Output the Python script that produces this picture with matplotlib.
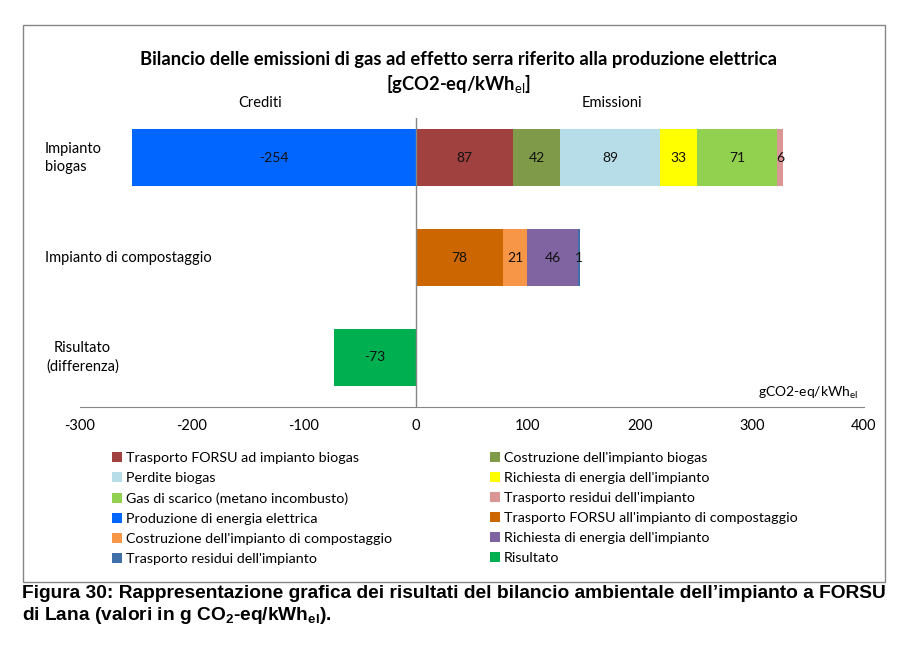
import numpy as np
import matplotlib
matplotlib.use("Agg")
import matplotlib.pyplot as plt
from matplotlib.patches import Rectangle, Patch

plt.rcParams['font.family'] = ['Lato', 'DejaVu Sans']
plt.rcParams['mathtext.fontset'] = 'custom'
plt.rcParams['mathtext.rm'] = 'Lato'
plt.rcParams['mathtext.bf'] = 'Liberation Sans:bold'
plt.rcParams['axes.unicode_minus'] = False

# categories (top to bottom)
categories = ['Impianto\nbiogas', 'Impianto di compostaggio', 'Risultato\n(differenza)']

# biogas plant: credits first, then emissions
biogas_names = ['Produzione di energia elettrica', 'Trasporto FORSU ad impianto biogas',
                "Costruzione dell'impianto biogas", 'Perdite biogas',
                "Richiesta di energia dell'impianto", 'Gas di scarico (metano incombusto)',
                "Trasporto residui dell'impianto"]
biogas_values = [-254, 87, 42, 89, 33, 71, 6]
biogas_colors = ['#0066FF', '#A0413F', '#7F9A48', '#B7DDE8', '#FFFF00', '#92D050', '#D99694']

compost_names = ["Trasporto FORSU all'impianto di compostaggio",
                 "Costruzione dell'impianto di compostaggio",
                 "Richiesta di energia dell'impianto", "Trasporto residui dell'impianto"]
compost_values = [78, 21, 46, 1]
compost_colors = ['#CC6600', '#F79646', '#8064A2', '#3F6FA8']

result_value = -73
result_color = '#00B050'

# legend order as it appears (row by row, two columns)
legend_order = [
    ('Trasporto FORSU ad impianto biogas', '#A0413F'),
    ("Costruzione dell'impianto biogas", '#7F9A48'),
    ('Perdite biogas', '#B7DDE8'),
    ("Richiesta di energia dell'impianto", '#FFFF00'),
    ('Gas di scarico (metano incombusto)', '#92D050'),
    ("Trasporto residui dell'impianto", '#D99694'),
    ('Produzione di energia elettrica', '#0066FF'),
    ("Trasporto FORSU all'impianto di compostaggio", '#CC6600'),
    ("Costruzione dell'impianto di compostaggio", '#F79646'),
    ("Richiesta di energia dell'impianto", '#8064A2'),
    ("Trasporto residui dell'impianto", '#3F6FA8'),
    ('Risultato', '#00B050'),
]

W, H = 916, 647
fig = plt.figure(figsize=(W / 100, H / 100), dpi=100)
ax = fig.add_axes([80 / W, 1 - 407 / H, (864 - 80) / W, (407 - 118) / H])

bh = 0.57


def draw_row(y, values, colors):
    pos, neg = 0, 0
    for v, c in zip(values, colors):
        if v < 0:
            left = neg + v
            neg = left
        else:
            left = pos
            pos += v
        ax.barh(y, abs(v), left=left, height=bh, color=c, edgecolor='none')
        ax.text(left + abs(v) / 2, y, f'{v}', ha='center', va='center', fontsize=10, color='#111111')


draw_row(0, biogas_values, biogas_colors)
draw_row(1, compost_values, compost_colors)
draw_row(2, [result_value], [result_color])

ax.set_xlim(-300, 400)
ax.set_ylim(2.5, -0.4)
ax.set_xticks(np.arange(-300, 401, 100))
ax.set_yticks([])
ax.axvline(0, color='#868686', lw=1)
for s in ['top', 'right', 'left']:
    ax.spines[s].set_visible(False)
ax.spines['bottom'].set_color('#868686')
ax.tick_params(axis='x', length=0, pad=9, labelsize=10.5)

# category labels
ax.text(-0.045, 0, categories[0], transform=ax.get_yaxis_transform(), ha='left', va='center',
        fontsize=10.5, linespacing=1.4)
ax.text(-0.045, 1, categories[1], transform=ax.get_yaxis_transform(), ha='left', va='center',
        fontsize=10.5)
ax.text(0.003, 2, categories[2], transform=ax.get_yaxis_transform(), ha='center', va='center',
        fontsize=10.5, linespacing=1.4)

# titles and side labels
fig.text(459 / W, 1 - 60 / H, 'Bilancio delle emissioni di gas ad effetto serra riferito alla produzione elettrica',
         ha='center', va='center', fontsize=13.2, fontweight='bold')
fig.text(459 / W, 1 - 84 / H, r'[gCO2-eq/kWh$_{\mathrm{el}}$]', ha='center', va='center',
         fontsize=13.2, fontweight='bold')
fig.text(260 / W, 1 - 103 / H, 'Crediti', ha='center', va='center', fontsize=10.5)
fig.text(612 / W, 1 - 103 / H, 'Emissioni', ha='center', va='center', fontsize=10.5)
fig.text(858 / W, 1 - 393 / H, r'gCO2-eq/kWh$_{\mathrm{el}}$', ha='right', va='center', fontsize=10)

# legend, ordered column-wise for matplotlib
handles = [Patch(facecolor=c, edgecolor='none') for _, c in legend_order]
labels = [n for n, _ in legend_order]
idx = list(range(0, 12, 2)) + list(range(1, 12, 2))
fig.legend([handles[i] for i in idx], [labels[i] for i in idx], ncol=2,
           loc='upper left', bbox_to_anchor=(112 / W, 1 - 452 / H), frameon=False,
           fontsize=10.3, handlelength=0.7, handleheight=0.7, handletextpad=0.3,
           columnspacing=6.8, labelspacing=0.56, borderaxespad=0, borderpad=0)

# chart frame
fig.patches.append(Rectangle((23 / W, 1 - 582 / H), (885 - 23) / W, (582 - 25) / H,
                             transform=fig.transFigure, fill=False, edgecolor='#868686', lw=1))

# caption
fig.text(22 / W, 1 - 594 / H,
         "Figura 30: Rappresentazione grafica dei risultati del bilancio ambientale dell\u2019impianto a FORSU",
         ha='left', va='center', fontsize=13.8, fontweight='bold', family='Liberation Sans')
fig.text(22 / W, 1 - 616 / H,
         r'di Lana (valori in g CO$_{\mathbf{2}}$-eq/kWh$_{\mathbf{el}}$).',
         ha='left', va='center', fontsize=13.8, fontweight='bold', family='Liberation Sans')

fig.savefig('out.png', dpi=100)
